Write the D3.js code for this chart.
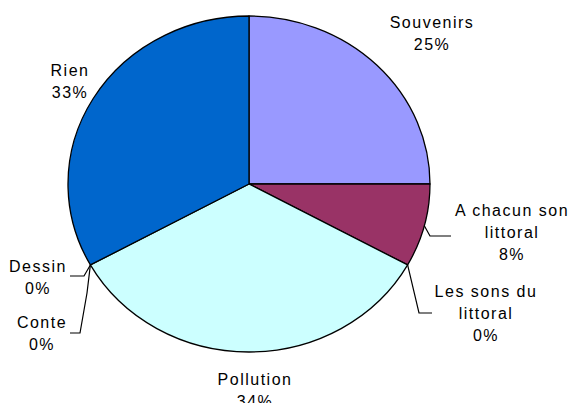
<!DOCTYPE html>
<html>
<head>
<meta charset="utf-8">
<script src="https://cdn.jsdelivr.net/npm/d3@7"></script>
<style>
  body { margin: 0; background: #fff; }
  svg text { font-family: "Liberation Sans", Arial, sans-serif; font-size: 16px; letter-spacing: 1.5px; fill: #000; }
</style>
</head>
<body>
<svg width="571" height="403"></svg>
<script>
"use strict";

// slices, clockwise from 12 o'clock
var categories = ["Souvenirs", "A chacun son littoral", "Les sons du littoral", "Pollution", "Conte", "Dessin", "Rien"];
var percents = [25, 8, 0, 34, 0, 0, 33];
var colors = ["#9999ff", "#993366", "#ffffcc", "#ccffff", "#660066", "#ff8080", "#0066cc"];
var labelLines = [
  ["Souvenirs", "25%"],
  ["A chacun son", "littoral", "8%"],
  ["Les sons du", "littoral", "0%"],
  ["Pollution", "34%"],
  ["Conte", "0%"],
  ["Dessin", "0%"],
  ["Rien", "33%"]
];

// label placement (text centre x, first baseline y) and leader elbows
var labelPos = [[432, 28], [512, 216], [486, 297], [255, 385], [42, 328], [38, 272], [70, 76]];
var leaders = [null, [[430, 236], [451, 236]], [[419, 313], [432, 313]], null,
               [[87, 293], [80, 333], [70, 333]], [[84, 276], [70, 276]], null];

var svg = d3.select("svg"),
    cx = 249, cy = 184, rx = 181, ry = 168;

var data = categories.map(function(c, i) { return {name: c, value: percents[i], i: i}; });

var pie = d3.pie().sort(null).value(function(d) { return d.value; });
var arcs = pie(data);
var arc = d3.arc().innerRadius(0).outerRadius(rx);

var g = svg.append("g")
    .attr("transform", "translate(" + cx + "," + cy + ") scale(1," + (ry / rx) + ")");

g.selectAll("path")
  .data(arcs.filter(function(d) { return d.value > 0; }))
  .enter().append("path")
    .attr("d", arc)
    .attr("fill", function(d) { return colors[d.data.i]; })
    .attr("stroke", "#000")
    .attr("stroke-width", 1.3)
    .attr("stroke-linejoin", "round")
    .attr("vector-effect", "non-scaling-stroke");

// point on the (stretched) rim at a slice's mid angle
function rim(d) {
  var a = (d.startAngle + d.endAngle) / 2;
  return [cx + rx * Math.sin(a), cy - ry * Math.cos(a)];
}

var line = d3.line();
arcs.forEach(function(d, i) {
  if (!leaders[i]) return;
  svg.append("path")
    .attr("d", line([rim(d)].concat(leaders[i])))
    .attr("fill", "none")
    .attr("stroke", "#000")
    .attr("stroke-width", 1.2);
});

var labels = svg.selectAll(".lbl")
  .data(arcs)
  .enter().append("text")
    .attr("class", "lbl")
    .attr("text-anchor", "middle")
    .attr("x", function(d, i) { return labelPos[i][0]; })
    .attr("y", function(d, i) { return labelPos[i][1]; });

labels.selectAll("tspan")
  .data(function(d, i) { return labelLines[i].map(function(t) { return {t: t, x: labelPos[i][0]}; }); })
  .enter().append("tspan")
    .attr("x", function(d) { return d.x; })
    .attr("dy", function(d, j) { return j === 0 ? 0 : 22; })
    .text(function(d) { return d.t; });
</script>
</body>
</html>
